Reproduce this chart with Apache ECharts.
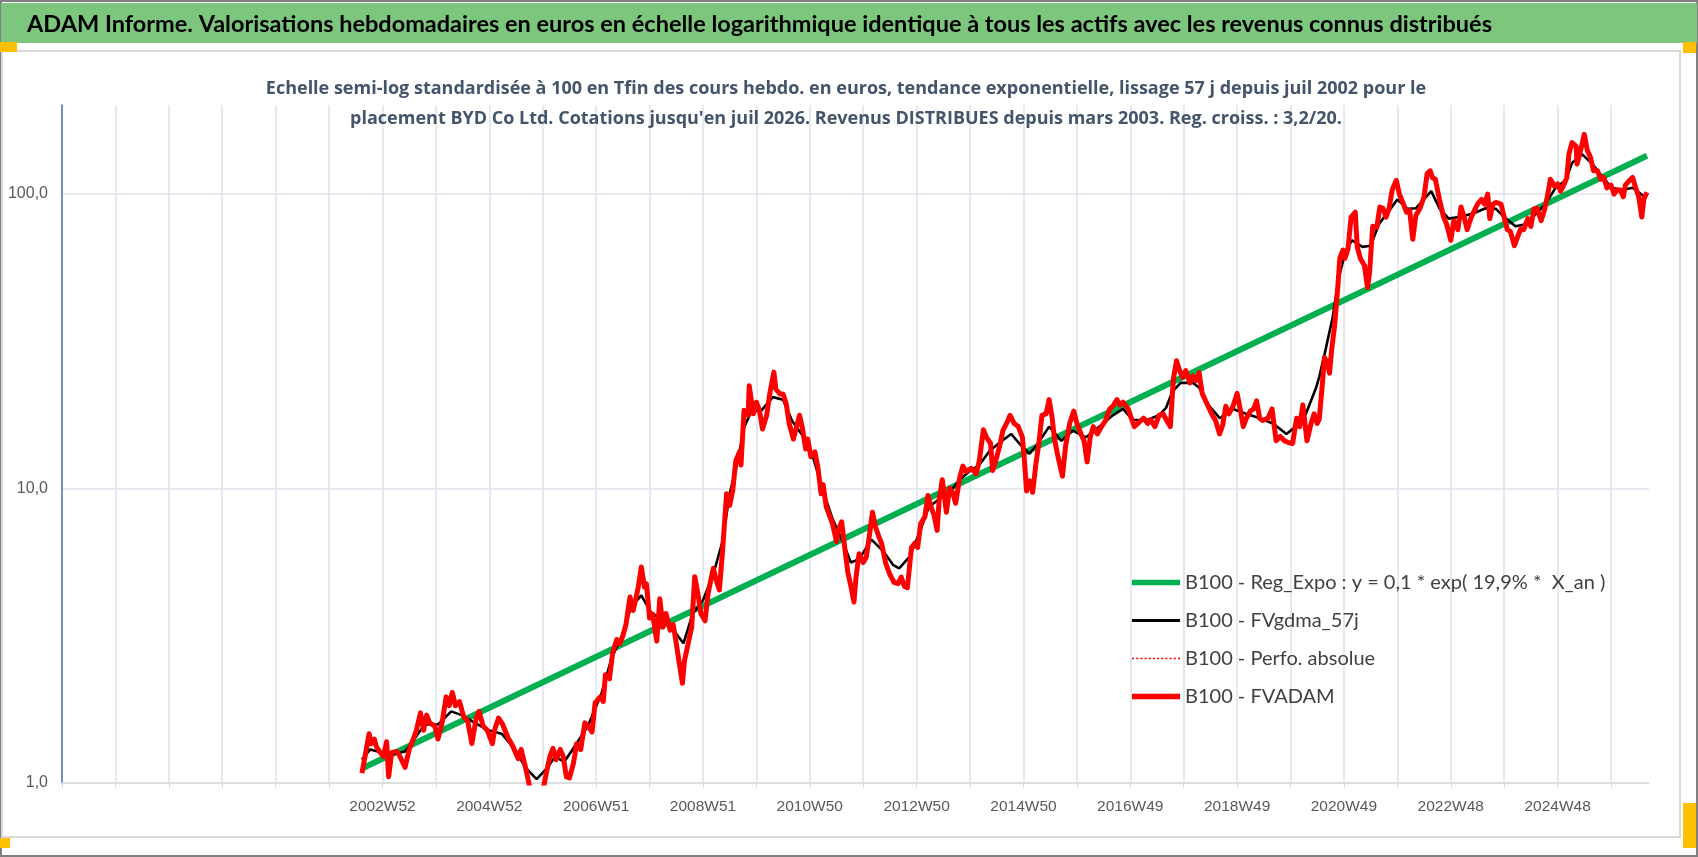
<!DOCTYPE html>
<html>
<head>
<meta charset="utf-8">
<title>ADAM Informe - BYD Co Ltd</title>
<script src="https://cdn.jsdelivr.net/npm/echarts@6/dist/echarts.min.js"></script>
<style>
  html, body { margin: 0; padding: 0; background: #fff; }
  #chart { width: 1698px; height: 857px; }
</style>
</head>
<body>
<div id="chart"></div>
<script>
// x = semaines depuis 1996W52, une graduation tous les 52 points
var labelWeeks = [312, 416, 520, 624, 728, 832, 936, 1040, 1144, 1248, 1352, 1456];
var labelTexts = ['2002W52', '2004W52', '2006W51', '2008W51', '2010W50', '2012W50',
                  '2014W50', '2016W49', '2018W49', '2020W49', '2022W48', '2024W48'];

// tendance exponentielle (droite en semi-log) : debut et fin
var regExpo = [[292, 1.12], [1543, 134.5]];

// lissage 57 j
var fvgdma = [
  [292, 1.20], [300, 1.30], [311, 1.27], [321, 1.25], [334, 1.28], [343, 1.41], [353, 1.58],
  [366, 1.58], [379, 1.75], [389, 1.70], [402, 1.60], [415, 1.51], [428, 1.47], [441, 1.30],
  [451, 1.13], [462, 1.03], [472, 1.12], [480, 1.23], [489, 1.18], [499, 1.33], [512, 1.56],
  [525, 2.0], [535, 2.65], [545, 3.15], [554, 3.95], [564, 4.33], [574, 3.76], [583, 3.63],
  [593, 3.38], [605, 2.98], [614, 3.76], [624, 4.17], [634, 5.1], [643, 6.6], [650, 9.6],
  [658, 12.4], [664, 16.1], [671, 18.2], [681, 18.4], [692, 20.4], [702, 20.0], [711, 16.9],
  [721, 15.1], [731, 12.8], [741, 9.8], [750, 7.9], [760, 6.6], [768, 5.6], [776, 5.75],
  [788, 6.7], [799, 6.15], [809, 5.5], [815, 5.35], [825, 5.85], [835, 7.1], [844, 8.65],
  [854, 9.2], [864, 9.7], [874, 10.7], [883, 11.4], [893, 12.0], [903, 13.4], [913, 14.3],
  [924, 15.3], [932, 14.2], [942, 13.1], [950, 14.2], [961, 16.2], [973, 14.5], [984, 15.7],
  [997, 14.9], [1010, 16.2], [1023, 17.7], [1033, 18.6], [1042, 17.1], [1055, 17.0],
  [1068, 17.7], [1075, 18.8], [1081, 21.3], [1089, 22.8], [1101, 22.8], [1107, 22.0],
  [1115, 19.4], [1127, 17.3], [1140, 18.6], [1153, 17.9], [1166, 17.3], [1179, 16.6],
  [1192, 15.3], [1201, 16.2], [1211, 17.9], [1221, 22.0], [1224, 23.9], [1230, 29.4],
  [1237, 38], [1243, 52], [1250, 64.4], [1256, 69.5], [1266, 66], [1274, 66.6], [1282, 78.8],
  [1292, 87.6], [1300, 95.6], [1310, 88.8], [1318, 89.2], [1328, 97.6], [1333, 102],
  [1341, 89.2], [1350, 82.3], [1360, 83.3], [1373, 85.5], [1386, 89.2], [1396, 88.8],
  [1404, 83.3], [1415, 77.5], [1425, 78.8], [1435, 85.5], [1444, 92.1], [1454, 104.7],
  [1464, 111], [1470, 127], [1480, 136], [1490, 126], [1500, 113.5], [1509, 104.7],
  [1519, 103], [1529, 104.7], [1539, 98.6], [1543, 98.6]
];

// valorisation hebdo (revenus distribues)
var fvadam = [
  [292, 1.08], [295, 1.23], [299, 1.47], [301, 1.36], [304, 1.41], [306, 1.33], [309, 1.28],
  [313, 1.23], [316, 1.38], [318, 1.05], [321, 1.27], [326, 1.28], [329, 1.23], [334, 1.13],
  [338, 1.30], [342, 1.41], [345, 1.51], [349, 1.73], [352, 1.51], [355, 1.70], [358, 1.60],
  [363, 1.56], [366, 1.41], [370, 1.60], [374, 1.96], [377, 1.83], [380, 2.03], [383, 1.83],
  [387, 1.89], [391, 1.68], [395, 1.62], [399, 1.36], [403, 1.64], [406, 1.75], [410, 1.56],
  [414, 1.51], [419, 1.36], [421, 1.51], [425, 1.66], [429, 1.58], [434, 1.43], [439, 1.33],
  [444, 1.21], [447, 1.30], [452, 1.10], [455, 0.98], [459, 0.92], [464, 0.90], [468, 0.94],
  [472, 1.10], [475, 1.23], [478, 1.31], [481, 1.20], [485, 1.30], [488, 1.23], [491, 1.05],
  [494, 1.04], [498, 1.17], [501, 1.36], [505, 1.30], [509, 1.60], [512, 1.56], [516, 1.49],
  [519, 1.87], [524, 1.96], [527, 1.89], [529, 2.33], [533, 2.26], [536, 2.75], [540, 3.07],
  [543, 2.97], [546, 3.15], [549, 3.45], [553, 4.28], [556, 3.85], [559, 4.28], [561, 4.62],
  [564, 5.41], [567, 4.62], [569, 4.74], [572, 3.63], [575, 3.74], [579, 3.03], [582, 4.22],
  [585, 3.38], [588, 3.76], [592, 3.30], [595, 3.45], [598, 2.98], [601, 2.54], [604, 2.18],
  [606, 2.60], [613, 3.38], [616, 5.01], [619, 4.40], [622, 3.76], [626, 3.55], [629, 4.40],
  [634, 5.35], [637, 4.87], [640, 4.52], [643, 6.08], [647, 9.59], [650, 8.75], [653, 9.85],
  [656, 12.4], [660, 13.4], [661, 12.0], [664, 18.4], [668, 17.7], [669, 22.3], [673, 17.9],
  [676, 19.6], [679, 18.4], [682, 15.9], [686, 17.7], [689, 20.9], [693, 24.8], [695, 21.7],
  [699, 20.9], [702, 20.9], [705, 19.4], [708, 16.6], [712, 14.7], [715, 16.1], [718, 17.7],
  [721, 15.9], [724, 13.6], [726, 14.7], [729, 12.8], [733, 13.3], [736, 11.7], [739, 9.59],
  [741, 10.3], [744, 8.65], [747, 8.12], [750, 7.60], [754, 6.6], [755, 7.1], [759, 7.7],
  [762, 6.3], [765, 5.2], [768, 4.65], [771, 4.11], [773, 5.0], [776, 6.0], [780, 5.6],
  [783, 5.85], [786, 6.9], [789, 8.3], [792, 7.39], [795, 6.9], [798, 6.49], [802, 5.55],
  [806, 5.1], [810, 4.8], [814, 4.75], [817, 5.0], [820, 4.65], [823, 4.6], [827, 6.3],
  [830, 6.5], [833, 6.3], [836, 7.6], [840, 8.0], [843, 9.45], [846, 8.65], [849, 8.1],
  [852, 7.2], [854, 9.2], [857, 10.7], [861, 8.3], [864, 10.0], [867, 9.7], [870, 8.9],
  [874, 10.9], [877, 11.9], [880, 11.4], [885, 11.7], [890, 11.2], [893, 12.4], [897, 15.8],
  [900, 14.9], [904, 14.2], [906, 11.5], [909, 12.4], [913, 14.0], [916, 15.7], [921, 17.0],
  [923, 17.7], [927, 16.6], [931, 16.2], [935, 14.9], [937, 12.4], [939, 9.8], [942, 10.6],
  [945, 9.7], [948, 12.0], [951, 14.2], [954, 17.7], [958, 17.9], [961, 20.0], [964, 17.3],
  [966, 14.9], [969, 13.1], [974, 11.0], [977, 13.9], [981, 16.6], [985, 18.3], [988, 16.6],
  [992, 15.3], [995, 14.5], [998, 12.3], [1001, 14.9], [1004, 16.2], [1008, 15.3],
  [1012, 16.2], [1016, 17.0], [1020, 18.6], [1023, 19.0], [1027, 20.0], [1030, 19.2],
  [1033, 19.6], [1038, 18.6], [1041, 17.3], [1044, 16.2], [1049, 16.8], [1053, 17.3],
  [1057, 16.6], [1060, 17.1], [1064, 16.2], [1068, 17.7], [1072, 17.9], [1075, 17.1],
  [1079, 16.2], [1082, 23.5], [1085, 27.1], [1088, 25.1], [1091, 23.8], [1094, 25.1],
  [1098, 22.8], [1101, 24.1], [1104, 23.2], [1107, 24.7], [1110, 21.0], [1114, 19.6],
  [1117, 18.6], [1120, 17.7], [1123, 17.0], [1127, 15.3], [1130, 16.4], [1133, 19.0],
  [1136, 17.9], [1140, 19.0], [1144, 21.0], [1147, 18.6], [1150, 16.2], [1153, 17.3],
  [1157, 18.3], [1160, 18.6], [1163, 19.8], [1166, 17.3], [1169, 17.0], [1174, 17.3],
  [1178, 18.6], [1182, 14.5], [1186, 15.0], [1190, 14.5], [1194, 14.3], [1198, 14.2],
  [1202, 17.3], [1205, 16.2], [1208, 19.2], [1212, 14.5], [1216, 16.6], [1219, 17.9],
  [1222, 16.6], [1224, 17.2], [1227, 22.6], [1229, 27.8], [1232, 26.6], [1234, 24.6],
  [1236, 29.4], [1239, 35.9], [1242, 48.0], [1244, 60.3], [1247, 64.4], [1249, 60.3],
  [1252, 65.0], [1255, 83.3], [1259, 86.5], [1261, 66.0], [1264, 60.3], [1268, 57.0],
  [1271, 48.0], [1273, 54.2], [1276, 77.5], [1280, 76.9], [1283, 90.2], [1286, 89.2],
  [1289, 83.3], [1292, 89.2], [1295, 103.1], [1299, 111], [1302, 99.7], [1306, 92.1],
  [1309, 86.5], [1312, 87.6], [1315, 70.0], [1318, 84.3], [1322, 89.2], [1326, 97.6],
  [1329, 117.0], [1332, 119.6], [1334, 113.5], [1337, 112], [1341, 95.6], [1345, 83.3],
  [1348, 78.8], [1352, 69.5], [1355, 81], [1359, 75.5], [1362, 90.2], [1365, 83.3],
  [1368, 75.5], [1372, 83.3], [1375, 87.6], [1378, 92.1], [1382, 95.6], [1385, 92.1],
  [1388, 99.7], [1390, 82.3], [1393, 92.1], [1396, 93.4], [1401, 92.1], [1404, 83.3],
  [1407, 75.5], [1410, 74.5], [1414, 66.6], [1417, 71.2], [1420, 75.8], [1423, 75.5],
  [1427, 82.3], [1430, 77.5], [1433, 88.8], [1436, 89.2], [1440, 81], [1443, 87.6],
  [1446, 97.6], [1449, 112], [1453, 106], [1456, 108], [1459, 102], [1462, 107],
  [1465, 113.5], [1467, 136], [1470, 149], [1474, 145], [1475, 126], [1479, 143],
  [1482, 159], [1485, 140], [1488, 133], [1491, 119.6], [1495, 119.6], [1498, 112],
  [1501, 113.5], [1504, 104.7], [1508, 107], [1511, 99.7], [1514, 103], [1517, 103],
  [1520, 97.6], [1522, 107], [1526, 111], [1529, 113.5], [1532, 104.7], [1535, 97.6],
  [1538, 83.3], [1540, 96], [1543, 101]
];

var seriesNames = [
  'B100 - Reg_Expo : y = 0,1 * exp( 19,9% *  X_an )',
  'B100 - FVgdma_57j',
  'B100 - Perfo. absolue',
  'B100 - FVADAM'
];

var labelByWeek = {};
for (var i = 0; i < labelWeeks.length; i++) {
    labelByWeek[labelWeeks[i]] = labelTexts[i];
}

// icones de legende : traits pleins et trait pointille
function barIcon(h) {
    return 'path://M0,0h48v' + h + 'h-48z';
}
var dotIcon = 'path://';
for (var d = 0; d < 48; d += 4) {
    dotIcon += 'M' + d + ',0h2v1.6h-2z';
}

var font = 'Lato, "Liberation Sans", sans-serif';
var subFont = '"Open Sans", Lato, sans-serif';
var axisFont = '"Liberation Sans", Arial, sans-serif';
var myChart = echarts.init(document.getElementById('chart'));

var option = {
    animation: false,
    backgroundColor: '#ffffff',
    graphic: [
        { type: 'rect', z: -10, shape: { x: 1, y: 1, width: 1696, height: 855 },
          style: { fill: '#ffffff', stroke: '#808080', lineWidth: 2 } },
        { type: 'rect', z: -9, shape: { x: 1, y: 3, width: 1696, height: 40 },
          style: { fill: '#7DC67E' } },
        { type: 'rect', z: -9, shape: { x: 2, y: 51, width: 1678, height: 786 },
          style: { fill: '#ffffff', stroke: '#D9D9D9', lineWidth: 2 } },
        { type: 'rect', z: 5, shape: { x: 0, y: 42, width: 17, height: 10 }, style: { fill: '#FFC000' } },
        { type: 'rect', z: 5, shape: { x: 1683, y: 42, width: 13, height: 11 }, style: { fill: '#FFC000' } },
        { type: 'rect', z: 5, shape: { x: 0, y: 838, width: 10, height: 10 }, style: { fill: '#FFC000' } },
        { type: 'rect', z: 5, shape: { x: 1683, y: 803, width: 13, height: 45 }, style: { fill: '#FFC000' } },
        { type: 'text', z: 5, x: 27, y: 24,
          style: { text: 'ADAM Informe. Valorisations hebdomadaires en euros en échelle logarithmique identique à tous les actifs avec les revenus connus distribués',
                   font: 'bold 23.5px ' + font, fill: '#000000', verticalAlign: 'middle' } },
        { type: 'text', z: 5, x: 846, y: 89,
          style: { text: 'Echelle semi-log standardisée à 100 en Tfin des cours hebdo. en euros, tendance exponentielle, lissage 57 j depuis juil 2002 pour le',
                   font: 'bold 18px ' + subFont, fill: '#44546A', align: 'center', verticalAlign: 'middle' } },
        { type: 'text', z: 5, x: 846, y: 119,
          style: { text: "placement BYD Co Ltd. Cotations jusqu'en juil 2026. Revenus DISTRIBUES depuis mars 2003. Reg. croiss. : 3,2/20.",
                   font: 'bold 18px ' + subFont, fill: '#44546A', align: 'center', verticalAlign: 'middle' } }
    ],
    grid: { left: 62, right: 49, top: 105, bottom: 74, containLabel: false },
    legend: {
        orient: 'vertical',
        left: 1127,
        top: 567,
        itemWidth: 48,
        itemHeight: 14,
        itemGap: 17,
        textStyle: { fontFamily: font, fontSize: 20, color: '#404040', lineHeight: 21 },
        data: [
            { name: seriesNames[0], icon: barIcon(5.5) },
            { name: seriesNames[1], icon: barIcon(3) },
            { name: seriesNames[2], icon: dotIcon },
            { name: seriesNames[3], icon: barIcon(5.5) }
        ]
    },
    xAxis: {
        type: 'value',
        min: 0,
        max: 1545,
        interval: 52,
        axisLine: { onZero: false, lineStyle: { color: '#D9D9D9', width: 1.5 } },
        axisTick: { show: true, length: 5, lineStyle: { color: '#D9D9D9' } },
        splitLine: { show: true, showMaxLine: false, lineStyle: { color: '#DEE2EA', width: 1.5 } },
        axisLabel: {
            margin: 16,
            color: '#595959',
            fontFamily: axisFont,
            fontSize: 15.5,
            showMaxLabel: false,
            formatter: function (v) { return labelByWeek[v] || ''; }
        }
    },
    yAxis: {
        type: 'log',
        logBase: 10,
        min: 1,
        max: 200,
        axisLine: { show: true, lineStyle: { color: '#4472C4', width: 1.5 } },
        axisTick: { show: false },
        splitLine: { show: true, showMaxLine: false, lineStyle: { color: '#DEE2EA', width: 1.5 } },
        axisLabel: {
            margin: 14,
            color: '#595959',
            fontFamily: axisFont,
            fontSize: 16,
            showMaxLabel: false,
            formatter: function (v) { return v.toFixed(1).replace('.', ','); }
        }
    },
    series: [
        {
            name: seriesNames[0], type: 'line', data: regExpo, symbol: 'none',
            lineStyle: { color: '#00B050', width: 6 }, itemStyle: { color: '#00B050' }
        },
        {
            name: seriesNames[1], type: 'line', data: fvgdma, symbol: 'none',
            lineStyle: { color: '#000000', width: 2.6 }, itemStyle: { color: '#000000' }
        },
        {
            name: seriesNames[2], type: 'line', data: fvadam, symbol: 'none',
            lineStyle: { color: '#FF0000', width: 1.5, type: 'dotted' }, itemStyle: { color: '#FF0000' }
        },
        {
            name: seriesNames[3], type: 'line', data: fvadam, symbol: 'none',
            lineStyle: { color: '#FF0000', width: 5, join: 'round' }, itemStyle: { color: '#FF0000' }
        }
    ]
};
myChart.setOption(option);
</script>
</body>
</html>
